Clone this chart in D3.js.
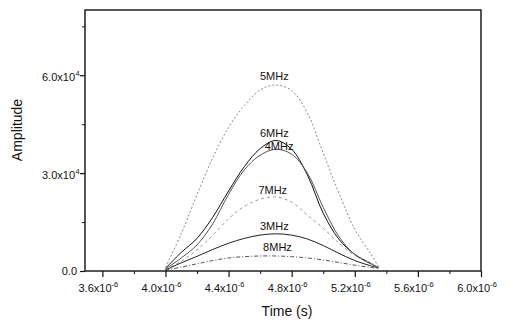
<!DOCTYPE html>
<html lang="en">
<head>
  <meta charset="UTF-8">
  <title>Amplitude vs time</title>
  <style>
    html,
    body {
      margin: 0;
      padding: 0;
      background: #fff;
    }

    svg text {
      font-family: Arial, "Liberation Sans", sans-serif;
      fill: #111;
    }
  </style>
</head>
<body>
<div id="chart"></div>

<script src="https://d3js.org/d3.v7.min.js"></script>
<script>
  // times in microseconds
  const times = [4.0, 4.1, 4.2, 4.3, 4.4, 4.5, 4.6, 4.7, 4.8, 4.9, 5.0, 5.1, 5.2, 5.3, 5.35];

  const amp5MHz = [1100, 11400, 23400, 34700, 44000, 50700, 55500, 57000, 55300, 48400, 36100, 23800, 12800, 5400, 1400];
  const amp6MHz = [800, 5700, 10000, 16500, 24500, 32000, 37500, 40000, 37300, 29400, 17700, 9700, 5100, 2400, 1000];
  const amp4MHz = [600, 4000, 8000, 14500, 23500, 31000, 35500, 37300, 35800, 30000, 19500, 10500, 5000, 2200, 1100];
  const amp7MHz = [500, 3000, 6500, 11000, 16000, 19800, 22000, 22700, 21100, 17100, 13100, 8500, 4800, 2400, 1200];
  const amp3MHz = [300, 2500, 4500, 6600, 8500, 10000, 11000, 11400, 11000, 9800, 7800, 5400, 3200, 1600, 900];
  const amp8MHz = [200, 1200, 2200, 3200, 4000, 4400, 4600, 4600, 4400, 4000, 3400, 2600, 1800, 1100, 800];

  const xTicks = [3.6, 4.0, 4.4, 4.8, 5.2, 5.6, 6.0];
  const xMinorTicks = [3.8, 4.2, 4.6, 5.0, 5.4, 5.8];
  const yTicks = [0, 30000, 60000];
  const yMinorTicks = [15000, 45000, 75000];
  const yTickLabels = ['0.0', '3.0x10', '6.0x10'];

  const series = [
    { name: '5MHz', values: amp5MHz, color: '#8a8a8a', dash: '2,2', labelT: 4.69, labelY: 80 },
    { name: '6MHz', values: amp6MHz, color: '#111', dash: null, labelT: 4.69, labelY: 137 },
    { name: '4MHz', values: amp4MHz, color: '#555', dash: null, labelT: 4.72, labelY: 150 },
    { name: '7MHz', values: amp7MHz, color: '#999', dash: '3,3', labelT: 4.68, labelY: 194 },
    { name: '3MHz', values: amp3MHz, color: '#222', dash: null, labelT: 4.69, labelY: 230 },
    { name: '8MHz', values: amp8MHz, color: '#555', dash: '4,2,1,2', labelT: 4.71, labelY: 251 },
  ];

  const width = 513;
  const height = 322;
  const margin = { top: 10, right: 32, bottom: 51, left: 85 };

  const x = d3.scaleLinear()
    .domain([3.49, 6.0])
    .range([margin.left, width - margin.right]);

  const y = d3.scaleLinear()
    .domain([0, 80000])
    .range([height - margin.bottom, margin.top]);

  const svg = d3.select('#chart')
    .append('svg')
    .attr('width', width)
    .attr('height', height);

  // curves
  const line = d3.line()
    .x((d, i) => x(times[i]))
    .y(d => y(d))
    .curve(d3.curveCatmullRom.alpha(0.5));

  svg.append('g')
    .attr('fill', 'none')
    .selectAll('path')
    .data(series)
    .join('path')
    .attr('stroke', d => d.color)
    .attr('stroke-width', 1)
    .attr('stroke-dasharray', d => d.dash)
    .attr('d', d => line(d.values));

  svg.append('g')
    .selectAll('text')
    .data(series)
    .join('text')
    .attr('x', d => x(d.labelT))
    .attr('y', d => d.labelY)
    .attr('text-anchor', 'middle')
    .attr('font-size', 11)
    .text(d => d.name);

  // frame
  svg.append('rect')
    .attr('x', x.range()[0])
    .attr('y', y.range()[1])
    .attr('width', x.range()[1] - x.range()[0])
    .attr('height', y.range()[0] - y.range()[1])
    .attr('fill', 'none')
    .attr('stroke', '#111')
    .attr('stroke-width', 1.4);

  // bottom axis
  const xAxis = svg.append('g')
    .attr('transform', `translate(0,${y.range()[0]})`)
    .call(d3.axisBottom(x).tickValues(xTicks).tickSize(6).tickFormat(''))
    .call(g => g.select('.domain').remove())
    .call(g => g.selectAll('line').attr('stroke', '#111').attr('stroke-width', 1.2));

  xAxis.append('g')
    .call(d3.axisBottom(x).tickValues(xMinorTicks).tickSize(3).tickFormat(''))
    .call(g => g.select('.domain').remove())
    .call(g => g.selectAll('line').attr('stroke', '#111'));

  const xLabels = svg.append('g')
    .selectAll('text')
    .data(xTicks)
    .join('text')
    .attr('x', d => x(d) - 4)
    .attr('y', 292)
    .attr('text-anchor', 'middle')
    .attr('font-size', 11);
  xLabels.append('tspan').text(d => d.toFixed(1) + 'x10');
  xLabels.append('tspan')
    .attr('dy', -5)
    .attr('font-size', 7.5)
    .text('-6');

  // left axis
  const yAxis = svg.append('g')
    .attr('transform', `translate(${x.range()[0]},0)`)
    .call(d3.axisLeft(y).tickValues(yTicks).tickSize(5).tickFormat(''))
    .call(g => g.select('.domain').remove())
    .call(g => g.selectAll('line').attr('stroke', '#111').attr('stroke-width', 1.2));

  yAxis.append('g')
    .call(d3.axisLeft(y).tickValues(yMinorTicks).tickSize(3).tickFormat(''))
    .call(g => g.select('.domain').remove())
    .call(g => g.selectAll('line').attr('stroke', '#111'));

  svg.append('g')
    .selectAll('text')
    .data(yTicks)
    .join('text')
    .attr('x', d => d > 0 ? 75 : 77)
    .attr('y', d => d > 0 ? y(d) + 6 : y(d) + 4)
    .attr('text-anchor', 'end')
    .attr('font-size', 11)
    .text((d, i) => yTickLabels[i]);

  svg.append('g')
    .selectAll('text')
    .data(yTicks.filter(d => d > 0))
    .join('text')
    .attr('x', 75.5)
    .attr('y', d => y(d) + 1)
    .attr('font-size', 7.5)
    .text('4');

  // axis titles
  svg.append('text')
    .attr('x', 287)
    .attr('y', 316)
    .attr('text-anchor', 'middle')
    .attr('font-size', 14)
    .text('Time (s)');

  svg.append('text')
    .attr('transform', 'translate(22,130) rotate(-90)')
    .attr('text-anchor', 'middle')
    .attr('font-size', 14)
    .text('Amplitude');
</script>
</body>
</html>
